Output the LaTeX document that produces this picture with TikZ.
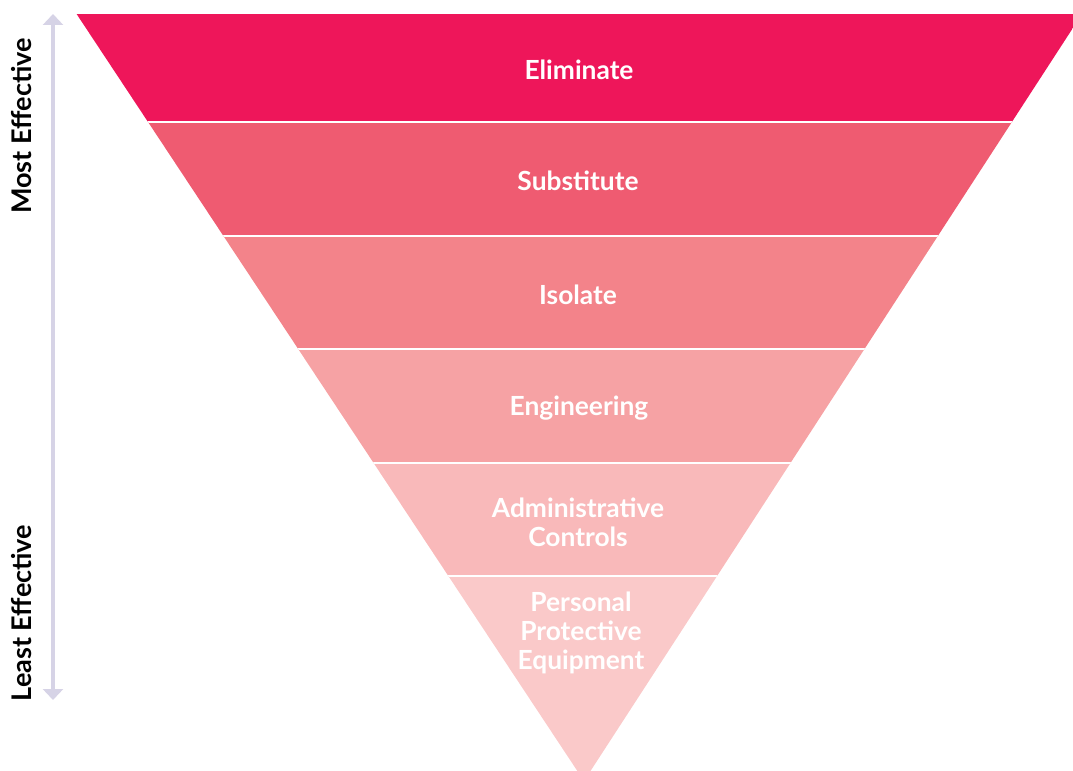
\documentclass[tikz,border=0pt]{standalone}
\usepackage{fontspec}
\setmainfont{Lato}
\usetikzlibrary{arrows.meta}

\definecolor{levelA}{RGB}{238,22,90}
\definecolor{levelB}{RGB}{239,91,113}
\definecolor{levelC}{RGB}{243,131,138}
\definecolor{levelD}{RGB}{246,162,164}
\definecolor{levelE}{RGB}{249,185,186}
\definecolor{levelF}{RGB}{250,201,201}
\definecolor{scaleline}{RGB}{214,211,230}

\begin{document}
\begin{tikzpicture}[x=0.02cm,y=-0.02cm,
        level/.style={font=\bfseries\fontsize{15}{16.5}\selectfont,text=white,align=center},
        side/.style={font=\bfseries\fontsize{15.4}{16}\selectfont,rotate=90}]
    \useasboundingbox (0,0) rectangle (1073,771);
    \clip (0,0) rectangle (1073,771);

    % inverted pyramid, one band per control level
    \begin{scope}
        \clip (76.6,14) -- (1082,14) -- (584,781) -- cycle;
        \fill[levelA] (0,14) rectangle (1100,122);
        \fill[levelB] (0,122) rectangle (1100,236);
        \fill[levelC] (0,236) rectangle (1100,349);
        \fill[levelD] (0,349) rectangle (1100,463);
        \fill[levelE] (0,463) rectangle (1100,576);
        \fill[levelF] (0,576) rectangle (1100,800);
        \foreach \y in {122,236,349,463,576}
            \draw[white,line width=1.7pt] (0,\y) -- (1100,\y);
    \end{scope}

    \node[level] (elim) at (579,70) {Eliminate};
    \node[level] (subst) at (578,181) {Substitute};
    \node[level] (iso) at (578,295) {Isolate};
    \node[level] (eng) at (579,408) {Engineering};
    \node[level] (admin) at (578,522) {Administrative\\Controls};
    \node[level] (ppe) at (581,633) {Personal\\Protective\\Equipment};

    % effectiveness scale
    \coordinate (top) at (53,14);
    \coordinate (bottom) at (53,700);
    \draw[scaleline,line width=2pt,
        {Triangle[width=0.4cm,length=0.22cm]}-{Triangle[width=0.4cm,length=0.22cm]}]
        (top) -- (bottom);
    \node[side] (most) at (22,126) {Most Effective};
    \node[side] (least) at (22,613) {Least Effective};
\end{tikzpicture}
\end{document}
